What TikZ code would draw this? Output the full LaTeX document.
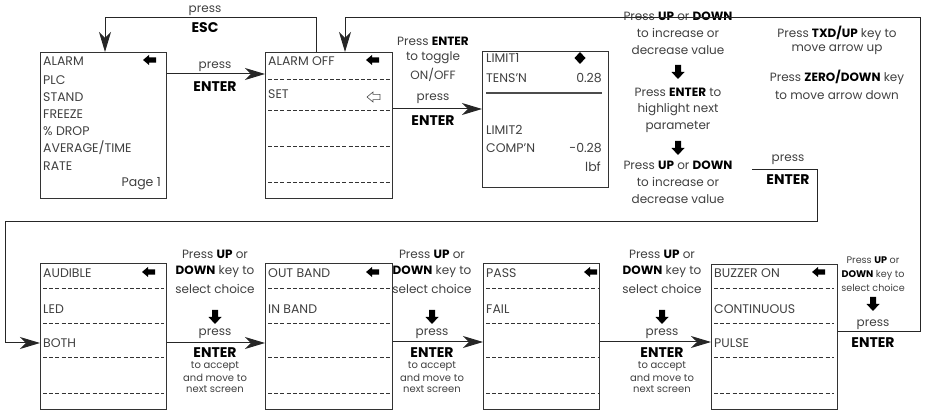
\documentclass[tikz,border=0pt]{standalone}
\usepackage{fontspec}
\setmainfont{Poppins}
\usetikzlibrary{arrows.meta,positioning,calc}

\tikzset{
  screen/.style={draw=black!80,line width=0.9pt,anchor=north west,inner sep=0pt,
    minimum width=126pt,minimum height=146pt},
  item/.style={anchor=west,inner sep=0pt,text=black!75,font=\fontsize{12.5}{14}\selectfont},
  value/.style={item,anchor=east},
  sep/.style={black!80,line width=0.7pt,dash pattern=on 4pt off 2.2pt},
  wire/.style={black!85,line width=1pt},
  link/.style={wire,-{Stealth[length=20pt,width=12pt,inset=6pt]}},
  note/.style={inner sep=0pt,text=black!75,font=\fontsize{12}{14}\selectfont},
  key/.style={inner sep=0pt,text=black,font=\bfseries\fontsize{14}{16}\selectfont},
  tiny/.style={inner sep=0pt,text=black!75,font=\fontsize{10}{11}\selectfont},
  mini/.style={inner sep=0pt,text=black!75,font=\fontsize{9.6}{11}\selectfont},
  pics/pointer/.style={code={
    \fill[black] (0,0) -- (6,-5) -- (6,-2.6) -- (13,-2.6) -- (13,2.6) -- (6,2.6) -- (6,5) -- cycle;}},
  pics/hollow/.style={code={
    \draw[black!70,line width=0.6pt,line join=miter] (0,0) -- (6,-5) -- (6,-2.6) -- (13,-2.6) -- (13,2.6) -- (6,2.6) -- (6,5) -- cycle;}},
  pics/down/.style={code={
    \fill[black] (0,7) -- (-6.5,0) -- (-3,0) -- (-3,-7) -- (3,-7) -- (3,0) -- (6.5,0) -- cycle;}},
}

\begin{document}
\begin{tikzpicture}[x=1pt,y=-1pt]
\useasboundingbox (0,0) rectangle (927,411);

% screens, top row
\node[screen] (menu) at (40,52) {};
\node[screen,minimum width=127pt] (alarm) at (265,52) {};
\node[screen,minimum width=126pt,minimum height=136pt] (limit) at (482,51) {};

% screens, bottom row
\node[screen,minimum height=146pt] (tone) at (40,263) {};
\node[screen,minimum width=127pt,minimum height=146pt] (band) at (265,263) {};
\node[screen,minimum width=116pt,minimum height=146pt] (pass) at (483,263) {};
\node[screen,minimum height=145pt] (buzz) at (711,264) {};

% main menu
\node[item] (m1) at (43,61) {ALARM};
\node[item] (m2) at (43,80) {PLC};
\node[item] (m3) at (43,97) {STAND};
\node[item] (m4) at (43,114) {FREEZE};
\node[item] (m5) at (43,131) {\% DROP};
\node[item] (m6) at (43,148) {AVERAGE/TIME};
\node[item] (m7) at (43,166) {RATE};
\node[value] (m8) at (161,184) {Page 1};
\pic at (143,60) {pointer};

% alarm screen
\node[item] (a1) at (268,61) {ALARM OFF};
\node[item] (a2) at (268,94) {SET};
\pic at (366,60) {pointer};
\pic at (367,97) {hollow};
\foreach \y in {79,110,146,182}
  \draw[sep] (268,\y) -- (390,\y);

% limit screen
\node[item] (l1) at (486,58) {LIMIT1};
\fill[black] (580,52) -- (585.5,58) -- (580,64) -- (574.5,58) -- cycle;
\node[item] (l2) at (486,78) {TENS'N};
\node[value] (l3) at (602,78) {0.28};
\draw[black!70,line width=1.8pt] (486,93) -- (602,93);
\node[item] (l4) at (486,130) {LIMIT2};
\node[item] (l5) at (486,148) {COMP'N};
\node[value] (l6) at (602,148) {-0.28};
\node[item,anchor=center] (l7) at (593,167) {lbf};

% bottom screens
\node[item] (t1) at (43,273) {AUDIBLE};
\node[item] (t2) at (43,309) {LED};
\node[item] (t3) at (43,343) {BOTH};
\pic at (142,272) {pointer};
\node[item] (b1) at (268,273) {OUT BAND};
\node[item] (b2) at (268,309) {IN BAND};
\pic at (366,272) {pointer};
\node[item] (p1) at (486,273) {PASS};
\node[item] (p2) at (486,309) {FAIL};
\pic at (584,272) {pointer};
\node[item] (z1) at (714,273) {BUZZER ON};
\node[item] (z2) at (714,309) {CONTINUOUS};
\node[item] (z3) at (714,343) {PULSE};
\pic at (812,272) {pointer};
\foreach \x/\w in {43/121,268/122,486/112,714/120}
  \foreach \y in {288,323,357,393}
    \draw[sep] (\x,\y) -- ++(\w,0);

% menu -> alarm
\draw[link] (menu.east |- 0,74) -- (alarm.west |- 0,74);
\node[note] (n1) at (215,67) {press};
\node[key] (n2) at (215,87) {ENTER};

% esc back
\draw[link] (alarm.north -| 316,0) -- ++(0,-34) -| (menu.north -| 105,0);
\node[note] (n3) at (205,11) {press};
\node[key] (n4) at (205,28) {ESC};

% alarm -> limit
\draw[link] (alarm.east |- 0,109) -- (limit.west |- 0,109);
\node[note] (n5) at (433,41) {Press \textbf{\color{black}ENTER}};
\node[note] (n6) at (433,58) {to toggle};
\node[note] (n7) at (433,75) {ON/OFF};
\node[note] (n8) at (433,99) {press};
\node[key] (n9) at (433,121) {ENTER};

% limit notes
\node[note] (c1) at (678,16) {Press \textbf{\color{black}UP} or \textbf{\color{black}DOWN}};
\node[note] (c2) at (678,33) {to increase or};
\node[note] (c3) at (678,50) {decrease value};
\pic at (678,72) {down};
\node[note] (c4) at (678,92) {Press \textbf{\color{black}ENTER} to};
\node[note] (c5) at (678,110) {highlight next};
\node[note] (c6) at (678,127) {parameter};
\pic at (678,148) {down};
\node[note] (c7) at (678,165) {Press \textbf{\color{black}UP} or \textbf{\color{black}DOWN}};
\node[note] (c8) at (678,182) {to increase or};
\node[note] (c9) at (678,199) {decrease value};
\node[note] (k1) at (837,33) {Press \textbf{\color{black}TXD/UP} key to};
\node[note] (k2) at (837,50) {move arrow up};
\node[note] (k3) at (837,77) {Press \textbf{\color{black}ZERO/DOWN} key};
\node[note] (k4) at (837,95) {to move arrow down};

% limit -> tone
\coordinate (cstart) at (752,170);
\draw[link] (cstart) -- (817,170) -- (817,222) -- (5,222) |- (tone.west |- 0,343);
\node[note] (c10) at (788,160) {press};
\node[key] (c11) at (788,180) {ENTER};

% bottom row steps
\foreach \a/\b/\x/\y in {tone/band/215/343,band/pass/432/342,pass/buzz/662/342} {
  \draw[link] (\a.east |- 0,\y) -- (\b.west |- 0,\y);
  \node[note] (s1\a) at (\x,254) {Press \textbf{\color{black}UP} or};
  \node[note] (s2\a) at (\x,272) {\textbf{\color{black}DOWN} key to};
  \node[note] (s3\a) at (\x,289) {select choice};
  \pic at (\x,317) {down};
  \node[note] (s4\a) at (\x,334) {press};
  \node[key] (s5\a) at (\x,353) {ENTER};
  \node[tiny] (s6\a) at (\x,366) {to accept};
  \node[tiny] (s7\a) at (\x,378) {and move to};
  \node[tiny] (s8\a) at (\x,389) {next screen};
}

% buzzer -> alarm
\draw[link] (buzz.east |- 0,332) -- (920,332) -- (920,18) -| (alarm.north -| 345,0);
\node[mini] (r1) at (873,260) {Press \textbf{\color{black}UP} or};
\node[mini] (r2) at (873,275) {\textbf{\color{black}DOWN} key to};
\node[mini] (r3) at (873,288) {select choice};
\pic at (873,304) {down};
\node[note] (r4) at (873,325) {press};
\node[key] (r5) at (873,343) {ENTER};
\end{tikzpicture}
\end{document}
